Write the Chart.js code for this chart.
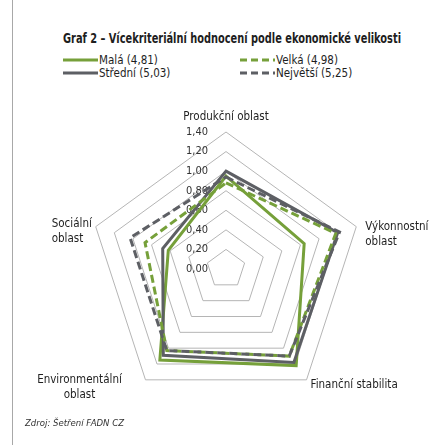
<!DOCTYPE html>
<html>
<head>
<meta charset="utf-8">
<script src="https://cdn.jsdelivr.net/npm/chart.js@4/dist/chart.umd.min.js"></script>
<style>
  body { margin: 0; background: #fff; width: 433px; height: 445px; overflow: hidden; position: relative;
         font-family: 'Liberation Sans Narrow', 'DejaVu Sans Condensed', sans-serif; color: #1e1e1e; }
  #frame { position: absolute; left: 12px; top: 0; height: 445px; border-left: 1px solid #a8a8a8; }
  #title { position: absolute; left: 63px; top: 30px; font-size: 13.5px; font-weight: bold; white-space: nowrap;
           transform-origin: 0 0; }
  .leg { position: absolute; font-size: 11.5px; white-space: nowrap; display: flex; align-items: center; }
  .leg svg { margin-right: 1px; }
  #src { position: absolute; left: 25px; top: 417px; font-size: 9.5px; font-style: italic; color: #333; }
  canvas { position: absolute; left: 0; top: 0; }
</style>
</head>
<body>
<div id="frame"></div>
<div id="title">Graf 2 – Vícekriteriální hodnocení podle ekonomické velikosti</div>
<div id="legend"></div>
<canvas id="chart" width="433" height="445"></canvas>
<div id="src">Zdroj: Šetření FADN CZ</div>
<script>
// categories and series
const categories = ["Produkční oblast", ["Výkonnostní", "oblast"], "Finanční stabilita", ["Environmentální", "oblast"], ["Sociální", "oblast"]];
const mala     = [0.95, 0.84, 1.22, 1.15, 0.62];
const stredni  = [1.00, 1.20, 1.18, 1.09, 0.68];
const velka    = [0.88, 1.18, 1.10, 1.03, 0.87];
const nejvetsi = [0.94, 1.22, 1.10, 1.03, 1.03];
const seriesNames = ["Malá (4,81)", "Střední (5,03)", "Velká (4,98)", "Největší (5,25)"];
const tickValues = [0, 0.2, 0.4, 0.6, 0.8, 1.0, 1.2, 1.4];
const tickLabels = ["0,00", "0,20", "0,40", "0,60", "0,80", "1,00", "1,20", "1,40"];

const GREEN = "#76a03a";
const GREY = "#5d5f64";
const FONT = "'Liberation Sans Narrow', 'DejaVu Sans Condensed', sans-serif";

// radar centre / radius in page pixels
const CX = 226, CY = 269, RAD = 137;

// squeeze the title to the reference width
const title = document.getElementById("title");
title.style.transform = `scaleX(${338 / title.getBoundingClientRect().width})`;

// legend (html)
const legendPos = [[63, 53], [63, 66], [240, 53], [240, 66]];
const legendStyle = [[GREEN, false], [GREY, false], [GREEN, true], [GREY, true]];
const legend = document.getElementById("legend");
seriesNames.forEach((name, i) => {
  const d = document.createElement("div");
  d.className = "leg";
  d.style.left = legendPos[i][0] + "px";
  d.style.top = legendPos[i][1] + "px";
  const dash = legendStyle[i][1] ? 'stroke-dasharray="7 4"' : "";
  d.innerHTML = `<svg width="35" height="8"><line x1="0" y1="4" x2="35" y2="4" stroke="${legendStyle[i][0]}" stroke-width="3" ${dash}/></svg>${name}`;
  legend.appendChild(d);
});

// where each category label sits relative to its outer vertex
const labelPlace = [
  { dx: 0, dy: -15, align: "center" },
  { dx: 9, dy: 0, align: "left" },
  { dx: 4, dy: 5, align: "left" },
  { dx: -66, dy: 0, align: "center" },
  { dx: -44, dy: -3, align: "left" }
];

const textPlugin = {
  id: "radarText",
  beforeDatasetsDraw(chart) {
    const s = chart.scales.r, ctx = chart.ctx;
    ctx.save();
    ctx.font = "11px " + FONT;
    ctx.fillStyle = "#333";
    ctx.textAlign = "right";
    ctx.textBaseline = "middle";
    tickValues.forEach((v, i) => {
      const p = s.getPointPositionForValue(0, v);
      ctx.fillText(tickLabels[i], p.x - 18, p.y);
    });
    ctx.restore();
  },
  afterDraw(chart) {
    const s = chart.scales.r, ctx = chart.ctx;
    ctx.save();
    ctx.font = "11.5px " + FONT;
    ctx.fillStyle = "#1e1e1e";
    ctx.textBaseline = "middle";
    categories.forEach((lab, i) => {
      const p = s.getPointPosition(i, s.drawingArea);
      const pl = labelPlace[i];
      ctx.textAlign = pl.align;
      const lines = Array.isArray(lab) ? lab : [lab];
      lines.forEach((t, j) => ctx.fillText(t, p.x + pl.dx, p.y + pl.dy + j * 15));
    });
    ctx.restore();
  }
};

const mk = (label, data, color, dashed) => ({
  label, data,
  borderColor: color,
  backgroundColor: "transparent",
  borderWidth: 3,
  borderDash: dashed ? [8, 4] : [],
  borderJoinStyle: "miter",
  pointRadius: 0,
  fill: false
});

new Chart(document.getElementById("chart"), {
  type: "radar",
  data: {
    labels: categories,
    datasets: [
      mk(seriesNames[0], mala, GREEN, false),
      mk(seriesNames[1], stredni, GREY, false),
      mk(seriesNames[2], velka, GREEN, true),
      mk(seriesNames[3], nejvetsi, GREY, true)
    ].reverse()
  },
  options: {
    responsive: false,
    animation: false,
    plugins: { legend: { display: false }, tooltip: { enabled: false } },
    elements: { line: { tension: 0 } },
    scales: {
      r: {
        min: 0, max: 1.4,
        ticks: { stepSize: 0.2, display: false },
        grid: { color: "#b5b5b5", lineWidth: 1 },
        angleLines: { display: false },
        pointLabels: { display: false },
        afterFit: s => { s.xCenter = CX; s.yCenter = CY; s.drawingArea = RAD; }
      }
    }
  },
  plugins: [textPlugin]
});
</script>
</body>
</html>
